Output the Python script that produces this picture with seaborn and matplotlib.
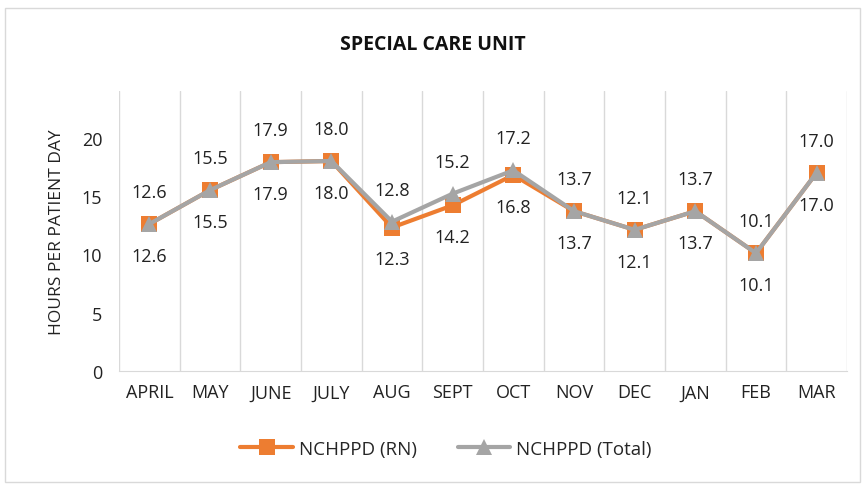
import numpy as np
import pandas as pd
import matplotlib.pyplot as plt
import seaborn as sns

months = ["APRIL", "MAY", "JUNE", "JULY", "AUG", "SEPT", "OCT", "NOV", "DEC", "JAN", "FEB", "MAR"]
rn_values = [12.6, 15.5, 17.9, 18.0, 12.3, 14.2, 16.8, 13.7, 12.1, 13.7, 10.1, 17.0]
total_values = [12.6, 15.5, 17.9, 18.0, 12.8, 15.2, 17.2, 13.7, 12.1, 13.7, 10.1, 17.0]

sns.set_style("white")
plt.rcParams['font.family'] = ['Open Sans', 'DejaVu Sans']

df = pd.DataFrame({
    "month": months * 2,
    "idx": list(range(len(months))) * 2,
    "value": rn_values + total_values,
    "series": ["NCHPPD (RN)"] * len(months) + ["NCHPPD (Total)"] * len(months),
})

fig = plt.figure(figsize=(8.65, 4.85), dpi=100)
ax = fig.add_axes([119 / 865, 1 - 372 / 485, (847 - 119) / 865, (372 - 92) / 485])

palette = {"NCHPPD (RN)": "#ED7D31", "NCHPPD (Total)": "#A5A5A5"}
sns.lineplot(data=df, x="idx", y="value", hue="series", style="series",
             markers={"NCHPPD (RN)": "s", "NCHPPD (Total)": "^"}, dashes=False,
             palette=palette, linewidth=3, markersize=11, markeredgewidth=0,
             ax=ax, legend=True)

# data labels: RN below, Total above
for i, (r, t) in enumerate(zip(rn_values, total_values)):
    ax.annotate(f"{r:.1f}", (i, r), xytext=(0, -23), textcoords="offset points",
                ha="center", va="center", fontsize=13, color="#222222")
    ax.annotate(f"{t:.1f}", (i, t), xytext=(0, 23), textcoords="offset points",
                ha="center", va="center", fontsize=13, color="#222222")

ax.set_xlim(-0.5, len(months) - 0.5)
ax.set_ylim(0, 24)
ax.set_yticks([0, 5, 10, 15, 20])
ax.set_xticks(range(len(months)))
ax.set_xticklabels(months)
ax.tick_params(axis="both", length=0, labelsize=13, colors="#222222")
ax.tick_params(axis="x", pad=9)
ax.tick_params(axis="y", pad=12)

for b in np.arange(0.5, len(months) - 0.5, 1):
    ax.axvline(b, color="#D9D9D9", linewidth=1, zorder=0)
ax.axvline(-0.5, color="#D9D9D9", linewidth=1, zorder=0)
ax.axvline(len(months) - 0.5, color="#D9D9D9", linewidth=1, zorder=0)

for s in ["top", "right", "left"]:
    ax.spines[s].set_visible(False)
ax.spines["bottom"].set_color("#D9D9D9")

ax.set_xlabel("")
ax.set_ylabel("HOURS PER PATIENT DAY", fontsize=12.5, color="#222222", labelpad=12)

handles, labels = ax.get_legend_handles_labels()
ax.legend(handles, labels, loc="center", bbox_to_anchor=(446 / 865, 1 - 450 / 485),
          bbox_transform=fig.transFigure, ncol=2, frameon=False, fontsize=13.5,
          handlelength=2.8, columnspacing=2.2, handletextpad=0.3)

fig.text(0.5, 1 - 45 / 485, "SPECIAL CARE UNIT", ha="center", va="center",
         fontsize=14, fontweight="bold", color="#111111")

border = plt.Rectangle((5 / 865, 0.005), 855 / 865, 1 - 9 / 485 - 0.005,
                       transform=fig.transFigure, fill=False, edgecolor="#D9D9D9", linewidth=1)
fig.patches.append(border)

fig.savefig("out.png", dpi=100)
